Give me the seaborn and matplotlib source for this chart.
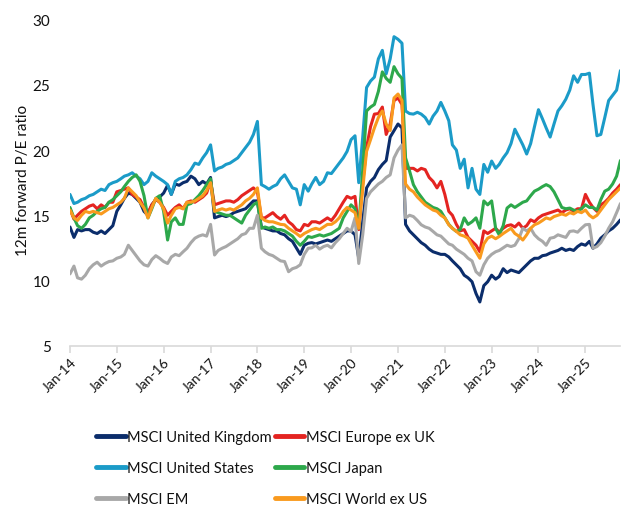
import numpy as np
import pandas as pd
import matplotlib
matplotlib.use("Agg")
import matplotlib.pyplot as plt
import matplotlib.dates as mdates
import seaborn as sns

series_names = ["MSCI United Kingdom", "MSCI Europe ex UK", "MSCI United States",
                "MSCI Japan", "MSCI EM", "MSCI World ex US"]
colors = ["#0B2D6B", "#E42421", "#1B9BC8", "#2DA84B", "#A8A8A8", "#F99A1E"]

# Monthly 12m forward P/E, Jan-2014 .. Oct-2025
uk = [14.1, 13.3, 13.9, 13.8, 13.9, 13.9, 13.7, 13.6, 13.8, 13.6, 13.9, 14.2,
      15.3, 15.8, 16.3, 16.7, 16.6, 16.3, 16.0, 15.3, 15.0, 15.8, 16.2, 16.4,
      16.7, 17.3, 16.6, 17.4, 17.3, 17.5, 17.6, 18.0, 17.8, 17.35, 17.6, 17.4,
      17.9, 14.8, 14.9, 15.0, 14.9, 15.0, 15.2, 15.3, 15.4, 15.5, 15.8, 16.1,
      16.1, 14.1, 14.0, 13.9, 13.8, 13.8, 13.6, 13.5, 13.2, 13.0, 12.5, 12.0,
      12.7, 12.85, 12.9, 12.8, 12.9, 13.0, 13.1, 13.0, 13.2, 13.4, 13.6, 13.8,
      13.8, 13.5, 11.7, 14.5, 17.1, 17.6, 17.9, 18.5, 18.9, 19.2, 21.0, 21.5,
      22.0, 21.7, 14.3, 13.8, 13.5, 13.2, 12.9, 12.7, 12.4, 12.2, 12.1, 12.0,
      12.0, 11.8, 11.5, 11.2, 10.9, 10.4, 10.2, 9.9, 9.0, 8.35, 9.6, 9.9,
      10.4, 10.1, 10.3, 10.9, 10.6, 10.8, 10.7, 10.6, 10.9, 11.2, 11.5, 11.7,
      11.7, 11.9, 11.95, 12.1, 12.2, 12.3, 12.47, 12.3, 12.4, 12.3, 12.6, 12.8,
      12.7, 13.0, 12.47, 12.8, 13.24, 13.5, 13.8, 14.0, 14.3, 14.65]

europe = [15.5, 14.7, 15.0, 15.3, 15.5, 15.7, 15.8, 15.5, 15.8, 15.6, 16.0, 16.0,
          16.8, 16.9, 17.0, 17.1, 16.6, 16.4, 16.2, 15.6, 15.2, 15.8, 16.2, 16.0,
          15.6, 15.0, 15.3, 15.6, 15.8, 15.5, 16.0, 16.1, 16.0, 16.2, 16.4, 16.7,
          17.6, 15.8, 15.9, 16.0, 16.1, 16.1, 16.0, 16.2, 16.5, 16.7, 16.9, 17.1,
          16.8, 14.8, 14.8, 15.0, 15.2, 14.9, 14.7, 15.0, 14.5, 14.27, 13.9, 13.8,
          14.3, 14.2, 14.5, 14.5, 14.4, 14.6, 14.8, 14.6, 15.0, 15.5, 16.0, 16.45,
          16.3, 16.45, 13.9, 17.5, 20.2, 21.8, 22.76, 22.8, 23.3, 21.2, 22.0, 23.8,
          24.0, 23.5, 18.6, 18.6, 18.6, 18.4, 18.6, 18.5, 17.9, 17.6, 17.1, 17.6,
          16.6, 15.3, 15.0, 14.3, 13.8, 13.9, 13.3, 13.0, 12.7, 12.2, 13.8, 13.6,
          13.8, 14.0, 13.7, 14.0, 14.2, 14.27, 14.1, 14.4, 14.0, 14.2, 14.65, 14.5,
          14.8, 15.0, 15.1, 15.2, 15.3, 15.4, 15.2, 15.4, 15.5, 15.3, 15.5, 15.5,
          16.6, 16.0, 15.6, 15.3, 15.8, 16.0, 16.3, 16.7, 17.0, 17.35]

us = [16.6, 15.9, 16.0, 16.2, 16.3, 16.5, 16.6, 16.8, 17.0, 16.9, 17.35, 17.5,
      17.6, 17.8, 18.0, 18.1, 18.26, 18.0, 17.8, 17.35, 17.6, 18.26, 18.0, 17.8,
      17.6, 17.35, 16.6, 17.6, 17.8, 17.9, 18.1, 18.5, 19.0, 18.9, 19.4, 19.8,
      20.4, 18.4, 18.6, 18.7, 18.9, 19.0, 19.2, 19.4, 19.8, 20.2, 20.6, 21.2,
      22.2, 17.35, 17.2, 17.0, 17.2, 17.35, 17.8, 18.1, 17.6, 17.1, 17.0, 15.8,
      17.35, 16.85, 17.4, 17.9, 17.35, 17.6, 18.26, 18.2, 18.6, 19.0, 19.4, 19.9,
      20.8, 21.1, 17.5, 21.0, 24.8, 25.3, 25.6, 27.0, 27.65, 25.85, 27.0, 28.7,
      28.5, 28.2, 23.0, 22.8, 22.76, 22.9, 22.76, 22.5, 22.0, 22.6, 23.0, 23.66,
      23.0, 22.25, 20.4, 20.0, 18.6, 19.3, 17.1, 18.6, 17.0, 16.6, 18.9, 18.3,
      19.16, 18.6, 18.9, 19.4, 19.8, 20.5, 21.6, 21.0, 20.4, 19.7, 20.5, 21.8,
      23.1, 22.4, 21.7, 21.0, 22.0, 23.0, 23.4, 23.9, 24.6, 25.7, 25.2, 25.8,
      25.8, 25.9, 23.5, 21.1, 21.2, 22.5, 23.8, 24.2, 24.6, 26.1]

japan = [15.6, 14.8, 14.2, 14.0, 14.3, 14.8, 15.0, 15.3, 15.5, 15.6, 16.0, 16.2,
         16.5, 16.8, 17.2, 17.6, 17.9, 18.1, 17.6, 16.5, 14.8, 15.5, 16.3, 16.5,
         15.3, 13.1, 14.5, 14.8, 14.3, 14.3, 15.8, 15.9, 16.2, 16.5, 16.9, 17.35,
         17.8, 15.3, 15.2, 15.1, 15.0, 15.0, 14.8, 14.6, 14.4, 15.0, 15.4, 15.8,
         16.0, 14.0, 14.1, 14.0, 14.1, 13.9, 13.9, 13.8, 13.6, 13.4, 13.0, 12.7,
         13.0, 13.37, 13.3, 13.4, 13.5, 13.4, 13.5, 13.6, 13.8, 14.0, 14.8, 15.3,
         15.8, 15.5, 14.0, 18.5, 23.0, 23.3, 23.5, 24.5, 26.0, 25.5, 25.2, 26.4,
         25.85, 25.5, 19.4, 18.4, 17.35, 16.8, 16.4, 16.0, 15.8, 15.6, 15.5, 15.3,
         14.8, 14.3, 14.0, 13.76, 13.9, 14.8, 14.3, 14.5, 14.8, 14.0, 16.1, 15.8,
         16.1, 14.0, 13.5, 14.2, 15.55, 15.8, 15.6, 15.8, 16.0, 16.1, 16.5, 16.85,
         17.0, 17.2, 17.35, 17.2, 16.8, 16.2, 15.6, 15.5, 15.55, 15.4, 15.3, 15.5,
         15.8, 15.6, 15.6, 15.4, 16.2, 16.85, 17.0, 17.4, 18.0, 19.2]

em = [10.5, 11.1, 10.2, 10.1, 10.4, 10.9, 11.2, 11.4, 11.1, 11.3, 11.45, 11.5,
      11.7, 11.8, 12.0, 12.7, 12.3, 11.9, 11.5, 11.2, 11.1, 11.6, 11.9, 11.7,
      11.45, 11.3, 11.8, 12.0, 11.9, 12.2, 12.47, 12.9, 13.24, 13.4, 13.5, 13.4,
      14.3, 11.95, 12.3, 12.47, 12.6, 12.8, 13.0, 13.2, 13.5, 13.6, 14.0, 14.0,
      15.0, 12.47, 12.2, 12.0, 11.9, 11.7, 11.5, 11.45, 10.67, 10.9, 11.0, 11.2,
      12.0, 12.47, 12.5, 12.7, 12.4, 12.6, 12.7, 12.5, 12.9, 13.2, 13.6, 14.0,
      13.76, 14.8, 11.3, 13.5, 16.3, 16.8, 17.1, 17.4, 17.6, 17.9, 18.1, 19.4,
      20.0, 20.4, 14.8, 15.0, 14.9, 14.6, 14.27, 14.1, 14.0, 13.76, 13.5, 13.4,
      13.1, 12.8, 12.7, 12.4, 12.2, 12.0, 11.7, 11.5, 10.67, 10.4, 11.2, 11.7,
      12.0, 12.2, 12.3, 12.5, 12.7, 12.6, 12.7, 13.2, 14.0, 13.8, 14.0, 13.5,
      13.2, 13.0, 12.7, 13.24, 13.3, 13.5, 13.4, 13.3, 13.76, 13.8, 13.7, 14.0,
      14.27, 14.3, 12.47, 12.6, 12.9, 13.4, 14.0, 14.5, 15.2, 15.9]

world_ex_us = [15.4, 14.8, 14.6, 15.0, 15.3, 15.2, 15.3, 15.2, 15.1, 15.3, 15.5, 15.6,
               15.8, 16.0, 16.3, 17.1, 16.8, 16.5, 16.0, 15.55, 14.8, 15.6, 16.3, 16.0,
               15.5, 14.4, 15.0, 15.5, 15.6, 15.5, 16.0, 16.0, 16.1, 16.3, 16.5, 16.9,
               17.5, 15.3, 15.4, 15.5, 15.4, 15.5, 15.4, 15.6, 15.8, 16.1, 16.3, 16.6,
               17.1, 14.8, 14.6, 14.5, 14.5, 14.4, 14.3, 14.27, 14.0, 13.8, 13.6, 13.37,
               13.6, 13.76, 13.9, 14.0, 13.9, 14.1, 14.3, 14.3, 14.5, 14.8, 15.3, 15.6,
               15.4, 15.2, 14.0, 17.0, 19.9, 20.8, 21.7, 22.5, 23.0, 22.0, 21.5, 24.0,
               24.3, 23.8, 17.4, 17.0, 16.8, 16.4, 16.1, 15.8, 15.6, 15.4, 15.3, 15.0,
               14.8, 14.27, 14.0, 13.76, 13.5, 13.4, 13.24, 12.7, 12.2, 11.7, 12.8, 13.24,
               13.4, 13.2, 13.37, 13.6, 13.8, 14.0, 13.6, 13.4, 13.1, 13.5, 14.0, 14.27,
               14.4, 14.6, 14.8, 14.7, 14.9, 15.0, 15.1, 15.0, 15.2, 15.1, 15.3, 15.2,
               15.4, 15.0, 14.8, 15.0, 15.4, 15.8, 16.2, 16.5, 16.8, 17.1]

all_series = [uk, europe, us, japan, em, world_ex_us]
n = len(uk)
for s in all_series:
    assert len(s) == n, len(s)
dates = pd.date_range("2014-01-01", periods=n, freq="MS")

df = pd.concat([pd.DataFrame({"date": dates, "pe": vals, "index": name})
                for name, vals in zip(series_names, all_series)], ignore_index=True)

sns.set_theme(style="white")
plt.rcParams["font.family"] = ["Lato", "DejaVu Sans"]

fig = plt.figure(figsize=(6.22, 5.06), dpi=100)
ax = fig.add_axes([0.1125, 0.315, 0.885, 0.644])

sns.lineplot(data=df, x="date", y="pe", hue="index", hue_order=series_names,
             palette=colors, linewidth=2.2, ax=ax, legend=True)

ax.set_ylim(5, 30)
ax.set_yticks([5, 10, 15, 20, 25, 30])
ax.set_xlim(dates[0], dates[-1])
ax.xaxis.set_major_locator(mdates.YearLocator(month=1, day=1))
ax.xaxis.set_major_formatter(mdates.DateFormatter("%b-%y"))

for sp in ["top", "right", "left"]:
    ax.spines[sp].set_visible(False)
ax.spines["bottom"].set_color("#D9D9D9")
ax.spines["bottom"].set_linewidth(1.2)
ax.tick_params(axis="x", which="major", direction="out", length=5, width=1.2,
               color="#D9D9D9", labelsize=10, labelcolor="#111111", pad=2, bottom=True)
ax.tick_params(axis="y", length=0, labelsize=11, labelcolor="#111111", pad=14)
for lbl in ax.get_xticklabels():
    lbl.set_rotation(45)
    lbl.set_ha("right")
    lbl.set_rotation_mode("anchor")

ax.set_xlabel("")
ax.set_ylabel("12m forward P/E ratio", fontsize=11, color="#111111")
ax.yaxis.set_label_coords(-0.073, 0.51)
ax.grid(False)

handles, labels = ax.get_legend_handles_labels()
ax.get_legend().remove()
hmap = dict(zip(labels, handles))
order = ["MSCI United Kingdom", "MSCI United States", "MSCI EM",
         "MSCI Europe ex UK", "MSCI Japan", "MSCI World ex US"]
leg_handles = []
for lab in order:
    h = hmap[lab]
    h.set_linewidth(3.5)
    leg_handles.append(h)
fig.legend(leg_handles, order, loc="upper left", bbox_to_anchor=(0.155, 0.148),
           ncol=2, frameon=False, handlelength=2.0, handletextpad=0.1,
           columnspacing=0.25, labelspacing=1.15, borderaxespad=0, borderpad=0,
           labelcolor="#111111", prop={"family": ["Lato", "DejaVu Sans"], "size": 10.5})

fig.savefig("out.png", dpi=100)
